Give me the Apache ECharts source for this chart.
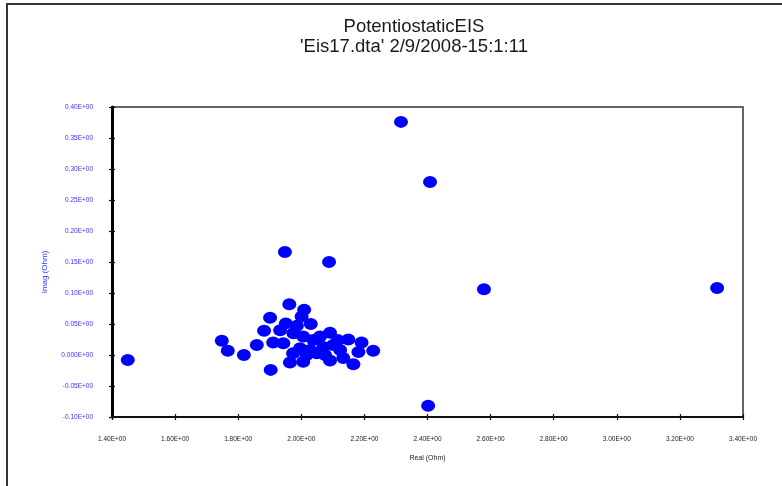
<!DOCTYPE html>
<html>
<head>
<meta charset="utf-8">
<style>
  html, body { margin: 0; padding: 0; background: #fff; }
  #chart { width: 782px; height: 486px; }
</style>
<script src="https://cdn.jsdelivr.net/npm/echarts@6/dist/echarts.min.js"></script>
</head>
<body>
<div id="chart"></div>
<script>
// Impedance measurement: real part (Ohm) vs imaginary part (Ohm)
const realOhm = [
  1.450, 2.316, 2.408, 1.948, 2.088, 2.579, 3.318, 2.402,
  1.962, 1.901, 2.009, 2.001, 1.951, 2.030, 1.882, 1.748,
  1.767, 1.818, 1.859, 1.903, 1.911, 1.943, 1.975, 2.006,
  1.964, 2.006, 2.038, 2.059, 2.091, 2.091, 2.101, 2.049,
  2.149, 2.191, 2.165, 2.133, 2.181, 2.228, 1.996, 2.028,
  2.070, 2.123, 1.974, 2.017, 2.075, 2.116, 1.986, 1.933
];
const imagOhm = [
  -0.008, 0.376, 0.279, 0.166, 0.150, 0.106, 0.108, -0.082,
  0.082, 0.060, 0.073, 0.062, 0.051, 0.050, 0.039, 0.023,
  0.007, 0.000, 0.016, -0.024, 0.020, 0.019, 0.035, 0.030,
  -0.012, -0.011, 0.024, 0.030, 0.036, -0.009, 0.016, 0.003,
  0.025, 0.020, -0.015, -0.005, 0.005, 0.007, 0.011, 0.008,
  0.013, 0.008, 0.003, 0.000, 0.000, 0.024, 0.047, 0.040
];

const xTickLabels = ['1.40E+00', '1.60E+00', '1.80E+00', '2.00E+00', '2.20E+00', '2.40E+00',
                     '2.60E+00', '2.80E+00', '3.00E+00', '3.20E+00', '3.40E+00'];
const yTickLabels = ['-0.10E+00', '-0.05E+00', '0.000E+00', '0.05E+00', '0.10E+00', '0.15E+00',
                     '0.20E+00', '0.25E+00', '0.30E+00', '0.35E+00', '0.40E+00'];

const titleLine1 = 'PotentiostaticEIS';
const titleLine2 = "'Eis17.dta' 2/9/2008-15:1:11";
const xAxisTitle = 'Real (Ohm)';
const yAxisTitle = 'Imag (Ohm)';

const X_MIN = 1.4, X_STEP = 0.2, Y_MIN = -0.1, Y_STEP = 0.05;
const points = realOhm.map((x, i) => [x, imagOhm[i]]);

const chart = echarts.init(document.getElementById('chart'), null, { renderer: 'canvas' });

const xLabelFmt = v => xTickLabels[Math.round((v - X_MIN) / X_STEP)] || '';
const yLabelFmt = v => yTickLabels[Math.round((v - Y_MIN) / Y_STEP)] || '';

const baseX = {
  type: 'value', min: X_MIN, max: 3.4, interval: X_STEP, position: 'bottom',
  splitLine: { show: false }
};
const baseY = {
  type: 'value', min: Y_MIN, max: 0.4, interval: Y_STEP, position: 'left',
  splitLine: { show: false }
};

chart.setOption({
  animation: false,
  backgroundColor: '#fff',
  title: {
    text: titleLine1 + '\n' + titleLine2,
    left: 409, top: 12, textAlign: 'center',
    textStyle: {
      fontFamily: 'Liberation Sans', fontSize: 18.5, fontWeight: 'normal',
      color: '#1a1a1a', lineHeight: 20
    }
  },
  graphic: [{
    type: 'rect',
    shape: { x: 7, y: 4, width: 800, height: 500 },
    style: { fill: null, stroke: '#333', lineWidth: 2 },
    silent: true
  }, {
    type: 'text',
    x: 45, y: 272,
    rotation: Math.PI / 2,
    style: {
      text: yAxisTitle, align: 'center', verticalAlign: 'middle',
      font: '8px "Liberation Sans"', fill: '#3030ff'
    },
    silent: true
  }],
  grid: {
    left: 112, right: 39, top: 107, bottom: 69,
    show: true, borderColor: '#333', borderWidth: 1.5, backgroundColor: 'transparent'
  },
  xAxis: [
    Object.assign({}, baseX, {
      name: xAxisTitle, nameLocation: 'middle', nameGap: 38,
      nameTextStyle: { fontFamily: 'Liberation Sans', fontSize: 7, color: '#222' },
      axisLine: { onZero: false, lineStyle: { color: '#111', width: 2 } },
      axisTick: { inside: false, length: 3, lineStyle: { color: '#111', width: 1.2 } },
      axisLabel: {
        formatter: xLabelFmt, margin: 19,
        fontFamily: 'Liberation Sans', fontSize: 6.5, color: '#222'
      }
    }),
    Object.assign({}, baseX, {
      axisLine: { onZero: false, show: false },
      axisTick: { inside: true, length: 3, lineStyle: { color: '#111', width: 1.2 } },
      axisLabel: { show: false }
    })
  ],
  yAxis: [
    Object.assign({}, baseY, {
      axisLine: { onZero: false, lineStyle: { color: '#000', width: 3 } },
      axisTick: { inside: false, length: 3, lineStyle: { color: '#111', width: 1.2 } },
      axisLabel: {
        formatter: yLabelFmt, margin: 19,
        fontFamily: 'Liberation Sans', fontSize: 6.5, color: '#3535ff'
      }
    }),
    Object.assign({}, baseY, {
      axisLine: { onZero: false, show: false },
      axisTick: { inside: true, length: 3, lineStyle: { color: '#111', width: 1.2 } },
      axisLabel: { show: false }
    })
  ],
  series: [{
    type: 'scatter',
    xAxisIndex: 0, yAxisIndex: 0,
    data: points,
    symbol: 'circle',
    symbolSize: [14, 12],
    itemStyle: { color: '#0000ff', opacity: 1 }
  }]
});
</script>
</body>
</html>
